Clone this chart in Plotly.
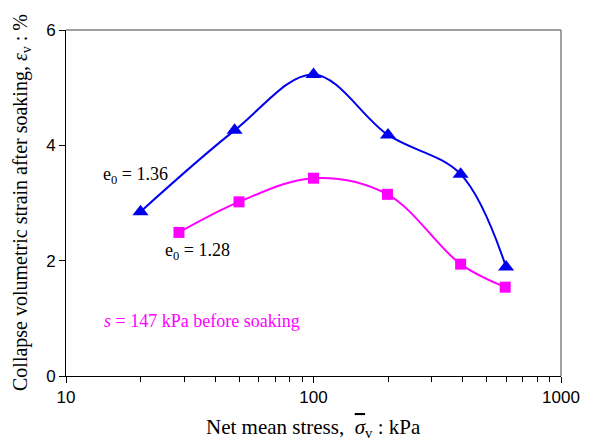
import plotly.graph_objects as go

# Data
stress_136 = [20, 48, 100, 200, 393, 600]
strain_136 = [2.85, 4.26, 5.23, 4.18, 3.50, 1.89]
stress_128 = [28.6, 50, 100, 199, 393, 595]
strain_128 = [2.49, 3.02, 3.43, 3.15, 1.94, 1.54]

x_ticks = [10, 100, 1000]
y_ticks = [0, 2, 4, 6]

BLUE = "#0000ee"
MAG = "#ff00ff"

fig = go.Figure()
fig.add_trace(go.Scatter(x=stress_136, y=strain_136, mode="lines+markers",
                         line=dict(color=BLUE, width=2, shape="spline", smoothing=1.0),
                         marker=dict(symbol="triangle-up", size=14, color=BLUE),
                         showlegend=False))
fig.add_trace(go.Scatter(x=stress_128, y=strain_128, mode="lines+markers",
                         line=dict(color=MAG, width=2, shape="spline", smoothing=1.0),
                         marker=dict(symbol="square", size=11, color=MAG),
                         showlegend=False))

tick_font = dict(family="Liberation Sans, Arial", size=17, color="black")
serif = "Liberation Serif, Times New Roman"

fig.update_layout(
    width=590, height=440,
    margin=dict(l=58, r=37, t=22, b=72),
    paper_bgcolor="white", plot_bgcolor="white",
    xaxis=dict(type="log", range=[1, 3], tickvals=x_ticks, ticktext=[str(v) for v in x_ticks],
               ticks="outside", ticklen=6, tickcolor="black", showgrid=False, zeroline=False,
               showline=True, linecolor="black", linewidth=1, tickfont=tick_font, automargin=False,
               minor=dict(ticks="outside", ticklen=5, tickcolor="black", showgrid=False,
                          tickvals=[20, 30, 40, 50, 60, 70, 80, 90, 200, 300, 400, 500, 600, 700, 800, 900])),
    yaxis=dict(range=[0, 6], tickvals=y_ticks, ticks="outside", ticklen=6, tickcolor="black",
               showgrid=False, zeroline=False, showline=True, linecolor="black", linewidth=1,
               tickfont=tick_font, automargin=False),
    shapes=[
        dict(type="line", xref="paper", yref="paper", x0=0, x1=1, y0=1, y1=1,
             line=dict(color="#808080", width=1.5)),
        dict(type="line", xref="paper", yref="paper", x0=1, x1=1, y0=0, y1=1,
             line=dict(color="#808080", width=1.5)),
    ],
    annotations=[
        dict(x=0.5, y=0, xref="paper", yref="paper", yanchor="middle", yshift=-52,
             text="Net mean stress,  <span style=\"text-decoration:overline\"><i>σ</i></span><sub>v</sub> : kPa",
             showarrow=False, font=dict(family=serif, size=21, color="black")),
        dict(x=0, y=0.5, xref="paper", yref="paper", xanchor="center", xshift=-45, textangle=-90,
             text="Collapse volumetric strain after soaking, <i>ε</i><sub>v</sub> : %",
             showarrow=False, font=dict(family=serif, size=20, color="black")),
        dict(x=1.279, y=3.48, xref="x", yref="y", text="e<sub>0</sub> = 1.36", showarrow=False,
             font=dict(family=serif, size=18, color="black")),
        dict(x=1.53, y=2.16, xref="x", yref="y", text="e<sub>0</sub> = 1.28", showarrow=False,
             font=dict(family=serif, size=18, color="black")),
        dict(x=1.551, y=0.95, xref="x", yref="y", text="<i>s</i> = 147 kPa before soaking", showarrow=False,
             font=dict(family=serif, size=18, color=MAG)),
    ],
)

fig.write_html("out.html")
